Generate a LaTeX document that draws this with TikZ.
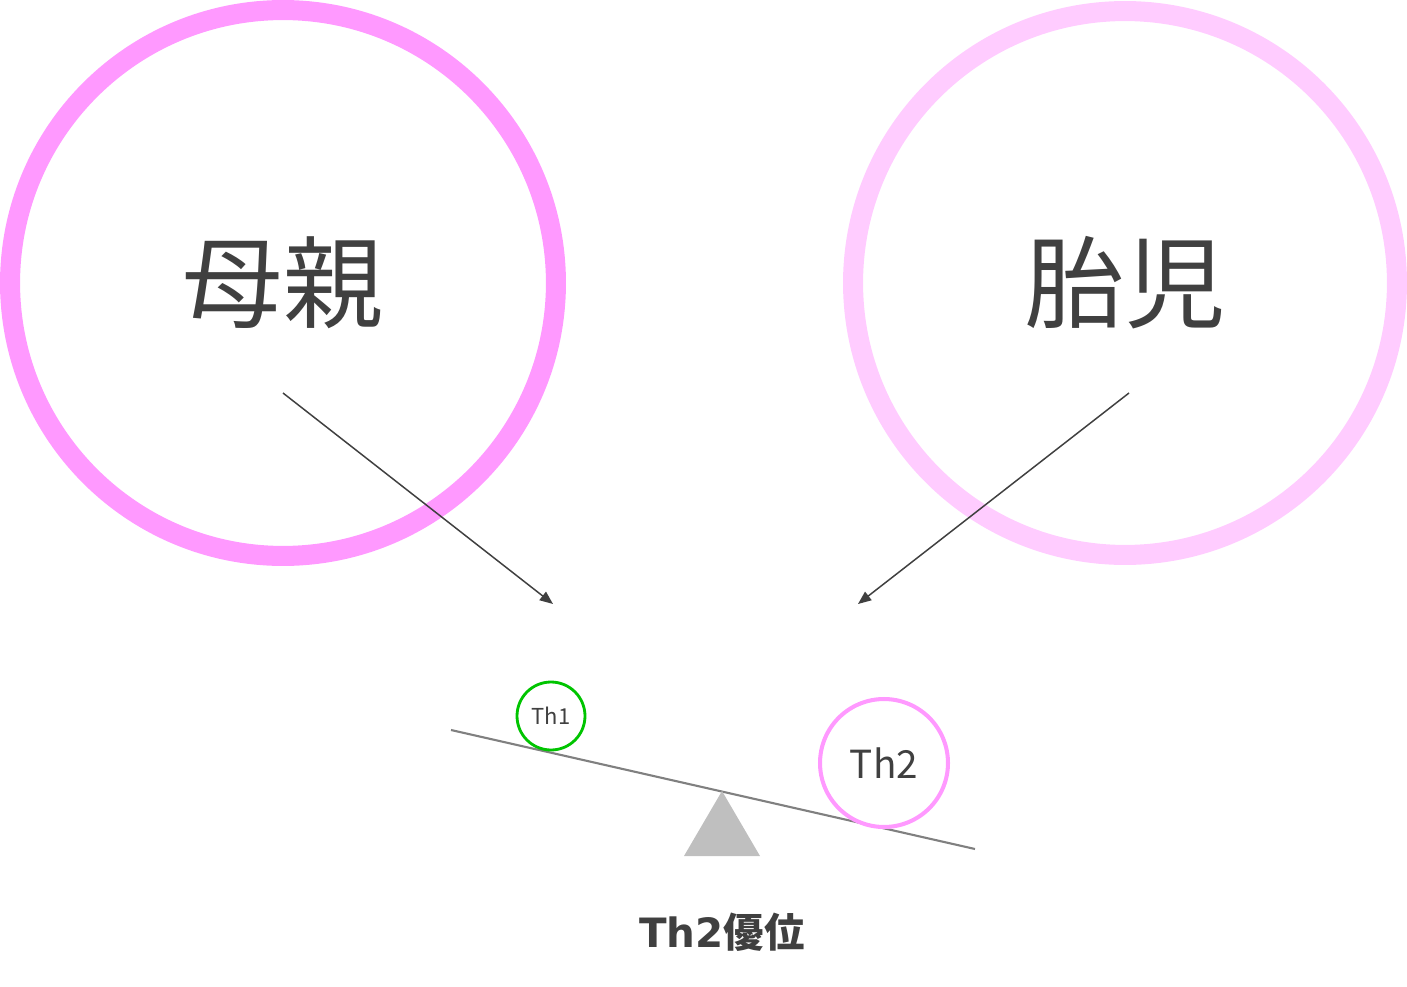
\documentclass[tikz,border=0pt]{standalone}
\usepackage{fontspec}
\setmainfont{Noto Sans CJK JP}
\newfontfamily\dejabold{DejaVu Sans Bold}
\usetikzlibrary{arrows.meta}
\definecolor{ringpink}{HTML}{FF99FF}
\definecolor{ringlight}{HTML}{FFCCFF}
\definecolor{thgreen}{HTML}{00C400}
\definecolor{textgray}{HTML}{404040}
\begin{document}
\begin{tikzpicture}[x=0.02cm,y=-0.02cm,
		ring/.style={circle,inner sep=0pt,line width=11.4pt,minimum size=10.92cm,text=textgray,font=\fontsize{57}{60}\selectfont},
		ball/.style={circle,inner sep=0pt,text=textgray},
		pointer/.style={textgray,line width=0.85pt,-{Triangle[length=7.5pt,width=6pt]}}]
				\useasboundingbox (0,0) rectangle (1407,987);
				\node[ring,draw=ringpink] (mother) at (283,283) {母親};
				\node[ring,draw=ringlight,minimum size=10.88cm] (fetus) at (1125,283) {胎児};
				\coordinate (motherfrom) at (283,393);
				\coordinate (motherto) at (553,604);
				\coordinate (fetusfrom) at (1129,393);
				\coordinate (fetusto) at (858,604);
				\draw[pointer] (motherfrom) -- (motherto);
				\draw[pointer] (fetusfrom) -- (fetusto);
				\coordinate (beamleft) at (451,730);
				\coordinate (beamright) at (975,849);
				\draw[gray,line width=1.2pt] (beamleft) -- (beamright);
				\fill[black!25] (722,791) -- (760,856) -- (684,856) -- cycle;
				\node[ball,draw=thgreen,line width=1.6pt,minimum size=1.36cm,font=\fontsize{12.5}{14}\selectfont] (th1) at (551,716) {Th1};
				\node[ball,draw=ringpink,line width=2.3pt,minimum size=2.56cm,font=\fontsize{22}{26}\selectfont] (th2) at (884,763) {Th2};
				\node[text=textgray,font=\fontsize{23}{28}\selectfont] (result) at (722,932) {{\dejabold Th2}{\bfseries 優位}};
			\end{tikzpicture}
\end{document}
